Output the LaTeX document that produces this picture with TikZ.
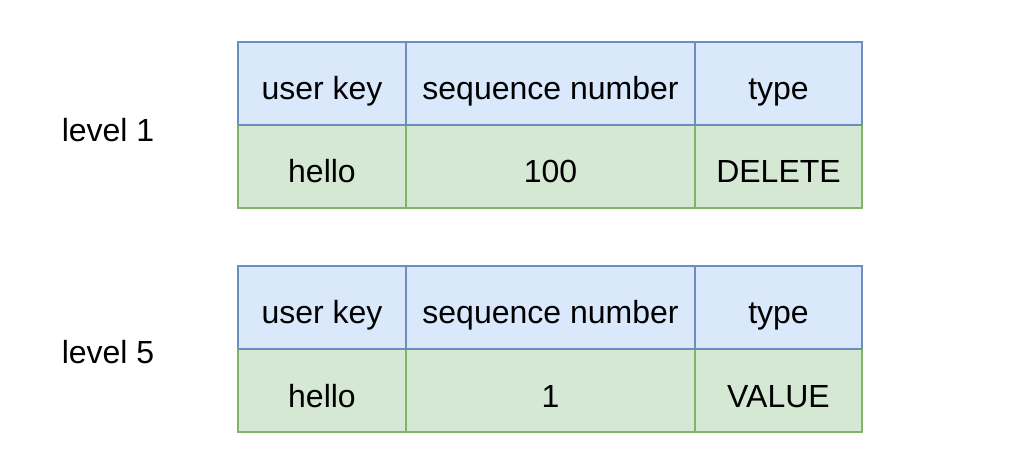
\documentclass[tikz,border=0pt]{standalone}
\usepackage{fontspec}
\setmainfont{Liberation Sans}
\usetikzlibrary{positioning}

\begin{document}
\begin{tikzpicture}[x=1pt, y=-1pt, font=\fontsize{32}{38}\selectfont, cell/.style={rectangle, draw, line width=1.5pt, minimum height=83pt, text height=33pt, text depth=0pt, inner sep=0pt, outer sep=0pt}, head/.style={cell, draw={rgb,255:red,108;green,142;blue,191}, fill={rgb,255:red,218;green,232;blue,252}}, body/.style={cell, draw={rgb,255:red,130;green,179;blue,102}, fill={rgb,255:red,213;green,232;blue,212}}, keycol/.style={minimum width=168pt}, seqcol/.style={minimum width=289pt}, typecol/.style={minimum width=167pt}, levelnode/.style={draw=none, fill=none}]
    \useasboundingbox (0,0) rectangle (1015,470);

    %Level 1
    \node[head, keycol](key_a) at (322,83.5){user key};
    \node[head, seqcol](seq_a)[right=0pt of key_a]{sequence number};
    \node[head, typecol](type_a)[right=0pt of seq_a]{type};
    \node[body, keycol](key_val_a)[below=0pt of key_a]{hello};
    \node[body, seqcol](seq_val_a)[below=0pt of seq_a]{100};
    \node[body, typecol](type_val_a)[below=0pt of type_a]{DELETE};
    \node[levelnode](level_a) at (108,130){level 1};

    %Level 5
    \node[head, keycol](key_b) at (322,307.5){user key};
    \node[head, seqcol](seq_b)[right=0pt of key_b]{sequence number};
    \node[head, typecol](type_b)[right=0pt of seq_b]{type};
    \node[body, keycol](key_val_b)[below=0pt of key_b]{hello};
    \node[body, seqcol](seq_val_b)[below=0pt of seq_b]{1};
    \node[body, typecol](type_val_b)[below=0pt of type_b]{VALUE};
    \node[levelnode](level_b) at (108,352){level 5};

    %Lines
    \draw[line width=1.5pt, draw={rgb,255:red,108;green,142;blue,191}] (key_a.south west) -- (type_a.south east);
    \draw[line width=1.5pt, draw={rgb,255:red,108;green,142;blue,191}] (key_b.south west) -- (type_b.south east);

\end{tikzpicture}
\end{document}
